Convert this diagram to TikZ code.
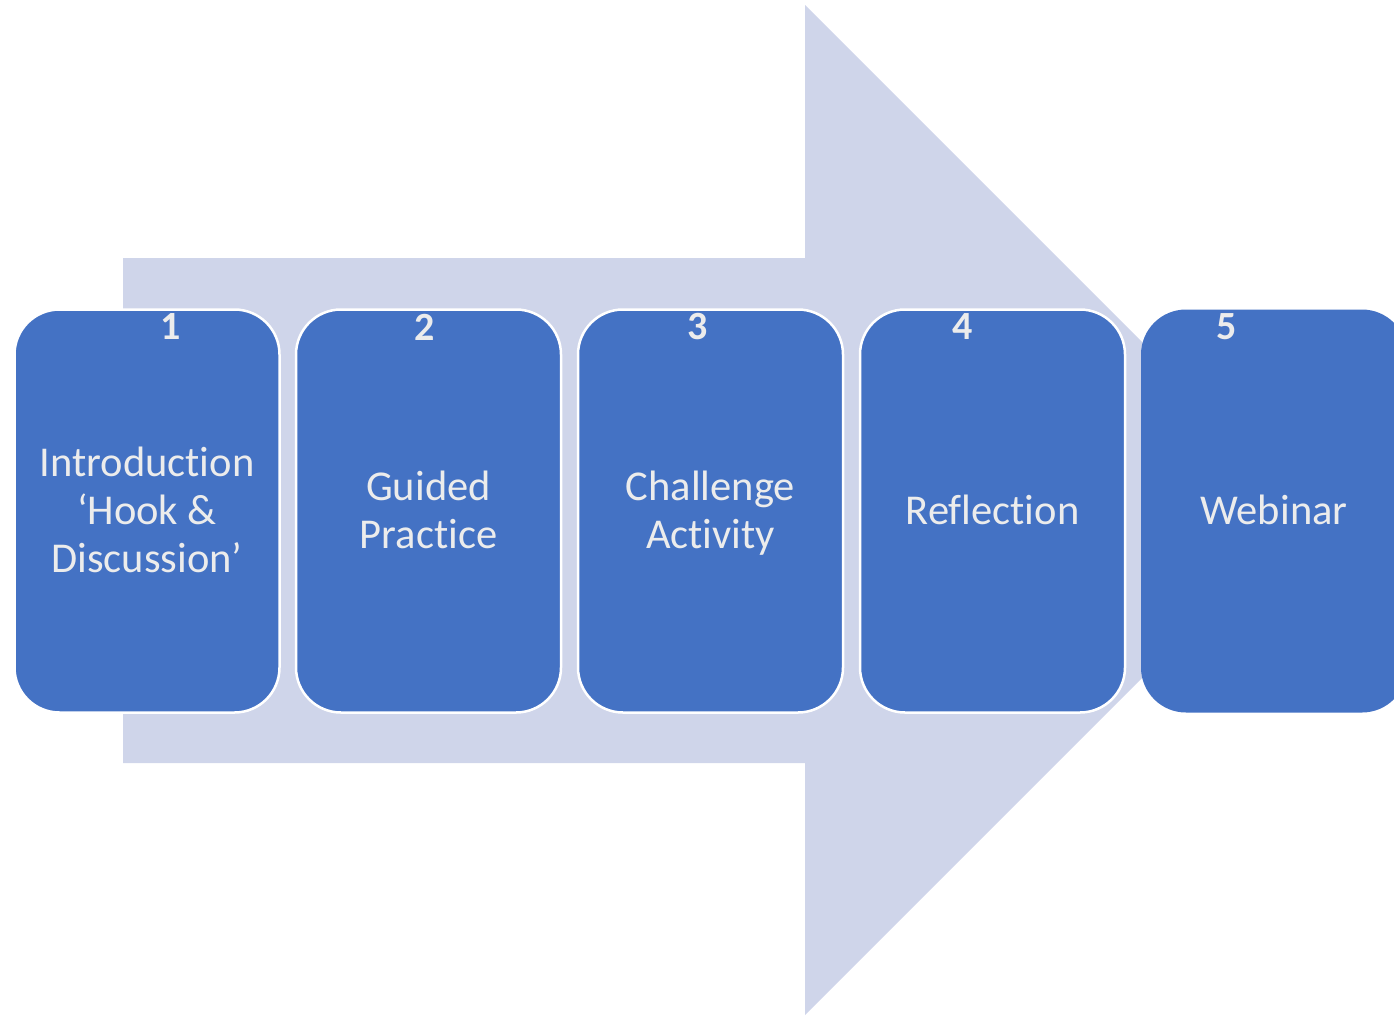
\documentclass[tikz,border=0pt]{standalone}
\usepackage{fontspec}
\setmainfont{Carlito}[Ligatures=NoCommon]
\begin{document}
\begin{tikzpicture}[x=1pt,y=-1pt]
\definecolor{boxblue}{HTML}{4472C4}
\definecolor{arrowfill}{HTML}{CFD5EA}
\definecolor{txt}{HTML}{ECECEC}
\tikzset{
  stepbox/.style={fill=boxblue, draw=white, line width=2.5pt, rounded corners=45pt,
    minimum width=265pt, minimum height=403pt, inner sep=0pt},
  steptext/.style={text=txt, font=\fontsize{42.5}{48}\selectfont, align=center, inner sep=0pt},
  stepnum/.style={text=txt, font=\fontsize{40}{48}\selectfont\bfseries, inner sep=0pt}
}
\useasboundingbox (0,0) rectangle (1394,1015);
\begin{scope}
\clip (0,0) rectangle (1394,1015);
\fill[arrowfill] (123,258) -- (805,258) -- (805,5) -- (1310,510) -- (805,1015) -- (805,763) -- (123,763) -- cycle;
\node[stepbox] (b1) at (147,511) {};
\node[stepbox] (b2) at (428.5,511) {};
\node[stepbox] (b3) at (710.5,511) {};
\node[stepbox] (b4) at (992.5,511) {};
\node[stepbox, draw=none, minimum width=266pt] (b5) at (1274,511) {};
\node[steptext] (t1) at (147,510) {Introduction\\‘Hook \&\\Discussion’};
\node[steptext] (t2) at (428.5,510) {Guided\\Practice};
\node[steptext] (t3) at (710.5,513) {Challenge\\Activity};
\node[steptext] (t4) at (992.5,510) {Reflection};
\node[steptext] (t5) at (1274,510) {Webinar};
\node[stepnum] (n1) at (171,327) {1};
\node[stepnum] (n2) at (425,327) {2};
\node[stepnum] (n3) at (698,327) {3};
\node[stepnum] (n4) at (963,327) {4};
\node[stepnum] (n5) at (1227,327) {5};
\end{scope}
\end{tikzpicture}
\end{document}
